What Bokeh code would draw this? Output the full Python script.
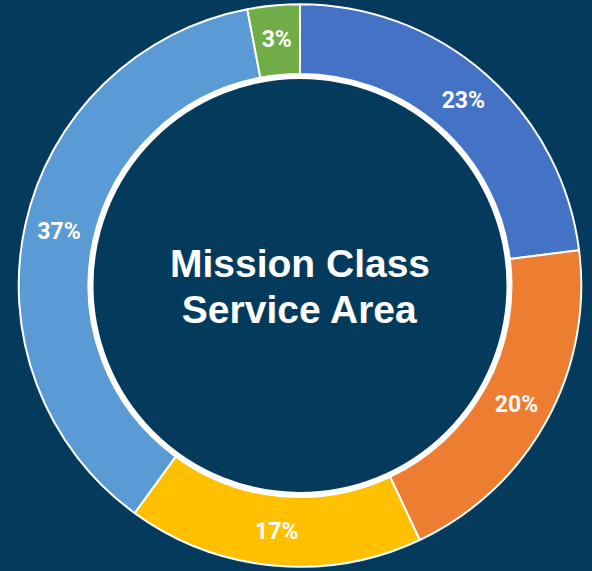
import math
from bokeh.plotting import figure
from bokeh.models import Range1d, ColumnDataSource
from bokeh.core.properties import value
from bokeh.embed import file_html
from bokeh.resources import INLINE

BG = "#043A5C"

categories = ["A", "B", "C", "D", "E"]
shares = [23, 20, 17, 37, 3]
labels = ["23%", "20%", "17%", "37%", "3%"]
colors = ["#4472C4", "#ED7D31", "#FFC000", "#5B9BD5", "#70AD47"]
title_lines = ["Mission Class", "Service Area"]

W, H = 592, 571
cx, cy = 299.5, H - 285  # data coords (x = screen x, y = H - screen y)
r_out, r_in = 281.3, 211.5
r_lab = 247

total = sum(shares)
starts, ends, lx, ly = [], [], [], []
cum = 0.0
for s in shares:
    a0 = math.pi / 2 - 2 * math.pi * cum / total
    a1 = math.pi / 2 - 2 * math.pi * (cum + s) / total
    mid = (a0 + a1) / 2
    starts.append(a0)
    ends.append(a1)
    lx.append(cx + r_lab * math.cos(mid))
    ly.append(cy + r_lab * math.sin(mid))
    cum += s

src = ColumnDataSource(dict(cat=categories, start=starts, end=ends, color=colors,
                            lx=lx, ly=ly, label=labels))

p = figure(width=W, height=H, output_backend="svg", toolbar_location=None,
           x_range=Range1d(0, W), y_range=Range1d(0, H),
           min_border=0, background_fill_color=BG, border_fill_color=BG)
p.axis.visible = False
p.grid.visible = False
p.outline_line_color = None

p.annular_wedge(x=cx, y=cy, inner_radius=r_in, outer_radius=r_out,
                start_angle="start", end_angle="end", direction="clock",
                fill_color="color", line_color="white", line_width=2, source=src)
p.circle(x=cx, y=cy, radius=r_in - 2.5, fill_color=None, line_color="white", line_width=5)

p.text(x="lx", y="ly", text="label", source=src, text_color="white",
       text_font=value("Roboto"), text_font_style="bold",
       text_font_size="23px", text_align="center", text_baseline="middle")

p.text(x=[cx, cx], y=[H - 263, H - 309], text=title_lines, text_color="white",
       text_font=value("Liberation Sans"), text_font_style="bold",
       text_font_size="39px", text_align="center", text_baseline="alphabetic")

html = file_html(p, INLINE)
html = html.replace("<head>", "<head><style>html,body{background:%s;}</style>" % BG, 1)
open("out.html", "w").write(html)
